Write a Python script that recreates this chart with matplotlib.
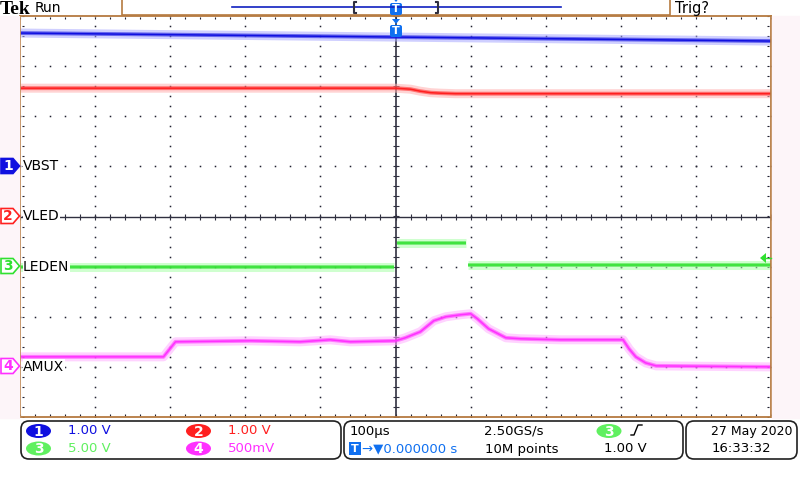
import numpy as np
import matplotlib.pyplot as plt
from matplotlib.patches import Polygon, FancyBboxPatch, Ellipse, Rectangle


# -------------------------------------------------
# DATA  (time in us, values in volts)
# -------------------------------------------------
t_vbst = [-500, 0, 500]
v_vbst = [2.66, 2.58, 2.50]

t_vled = [-500, 0, 20, 33, 47, 60, 80, 500]
v_vled = [2.56, 2.56, 2.54, 2.50, 2.47, 2.46, 2.45, 2.45]

t_leden = [-500, -2, np.nan, 2, 94, np.nan, 96, 500]
v_leden = [0.0, 0.0, np.nan, 2.4, 2.4, np.nan, 0.2, 0.2]

t_amux = [-500, -309, -293, -193, -127, -87, -60, 0, 13, 33, 51, 67, 87,
          100, 109, 124, 147, 167, 220, 303, 311, 320, 333, 347, 500]
v_amux = [0.10, 0.10, 0.25, 0.26, 0.25, 0.27, 0.25, 0.26, 0.29, 0.35, 0.46,
          0.50, 0.52, 0.53, 0.48, 0.38, 0.29, 0.28, 0.27, 0.27, 0.18, 0.10,
          0.04, 0.01, 0.0]

ch_names = ["VBST", "VLED", "LEDEN", "AMUX"]
ch_scale = [1.0, 1.0, 5.0, 0.5]      # V/div
ch_offset = [1, 0, -1, -3]           # ground position, div
ch_core = ["#1010e0", "#ff2020", "#30e030", "#ff30ff"]
ch_glow = ["#a8a8ff", "#ffb0b0", "#a8ffa8", "#ffb0ff"]
ch_scale_txt = ["1.00 V", "1.00 V", "5.00 V", "500mV"]
time_div = 100.0                     # us/div

border = "#b57a40"
grid_c = "#202030"

fig = plt.figure(figsize=(8, 4.8), dpi=100, facecolor="white")

# main graticule
ax = fig.add_axes([20 / 800, 1 - 417 / 480, 751 / 800, 401 / 480], zorder=1)
ax.set_xlim(-5, 5)
ax.set_ylim(-4, 4)
ax.set_xticks([])
ax.set_yticks([])
for s in ax.spines.values():
    s.set_color(border)
    s.set_linewidth(1.3)

# dotted grid
xs = np.arange(-5, 5.001, 0.2)
ys = np.arange(-4, 4.001, 0.2)
for gy in range(-3, 4):
    if gy != 0:
        ax.plot(xs, np.full_like(xs, gy), ls="none", marker="s", ms=1.1,
                mec="none", color=grid_c)
for gx in range(-4, 5):
    if gx != 0:
        ax.plot(np.full_like(ys, gx), ys, ls="none", marker="s", ms=1.1,
                mec="none", color=grid_c)
# border ticks
ax.plot(xs, np.full_like(xs, 3.96), ls="none", marker="|", ms=2, mew=0.8, color=grid_c)
ax.plot(xs, np.full_like(xs, -3.96), ls="none", marker="|", ms=2, mew=0.8, color=grid_c)
ax.plot(np.full_like(ys, 4.96), ys, ls="none", marker="_", ms=2, mew=0.8, color=grid_c)
ax.plot(np.full_like(ys, -4.96), ys, ls="none", marker="_", ms=2, mew=0.8, color=grid_c)
# centre cross
ax.axhline(0, color="#303040", lw=1.0)
ax.axvline(0, color="#303040", lw=1.2)
ax.plot(xs, np.zeros_like(xs), ls="none", marker="|", ms=4, mew=0.8, color="#303040")
ax.plot(np.zeros_like(ys), ys, ls="none", marker="_", ms=5, mew=0.8, color="#303040")

# traces
series = [(t_vbst, v_vbst), (t_vled, v_vled), (t_leden, v_leden), (t_amux, v_amux)]
for i, (t, v) in enumerate(series):
    x = np.array(t, dtype=float) / time_div
    y = np.array(v, dtype=float) / ch_scale[i] + ch_offset[i]
    ax.plot(x, y, color=ch_glow[i], lw=6.5, alpha=0.55, solid_capstyle="butt")
    ax.plot(x, y, color=ch_core[i], lw=2.8, alpha=0.55, solid_capstyle="butt")
    ax.plot(x, y, color=ch_core[i], lw=1.1, solid_capstyle="butt")

# channel labels
for i, name in enumerate(ch_names):
    ax.text(-4.96, ch_offset[i], name, fontsize=10, va="center", ha="left",
            color="black", zorder=5,
            bbox=dict(facecolor="white", edgecolor="none", pad=0.3))

# -------------------------------------------------
# OVERLAY (pixel coordinates)
# -------------------------------------------------
ov = fig.add_axes([0, 0, 1, 1], zorder=2)
ov.set_xlim(0, 800)
ov.set_ylim(480, 0)
ov.axis("off")
ov.patch.set_visible(False)

# side strips
ov.add_patch(Rectangle((0, 16), 19, 402, color="#fdf5f9", zorder=0))
ov.add_patch(Rectangle((772, 16), 28, 402, color="#fdf5f9", zorder=0))

# channel ground markers
ground_px = [166, 216, 266, 366]
for i, gp in enumerate(ground_px):
    pts = [(1, gp - 7.5), (13, gp - 7.5), (19.5, gp), (13, gp + 7.5), (1, gp + 7.5)]
    if i == 0:
        ov.add_patch(Polygon(pts, closed=True, fc=ch_core[i], ec=ch_core[i], lw=1.2))
        tc = "white"
    else:
        ov.add_patch(Polygon(pts, closed=True, fc="white", ec=ch_core[i], lw=1.2))
        tc = ch_core[i]
    ov.text(8, gp + 0.5, str(i + 1), color=tc, fontsize=10, fontweight="bold",
            ha="center", va="center")

# top bar
ov.text(0, 9, "Tek", fontfamily="Liberation Serif", fontweight="bold",
        fontsize=14, ha="left", va="center")
ov.text(35, 8, "Run", fontsize=10, ha="left", va="center")
ov.add_patch(Rectangle((122, -2), 548, 17, fc="white", ec=border, lw=1.2))
ov.plot([232, 561], [7, 7], color="#1020c0", lw=1.2)
ov.plot([356, 354, 354, 356], [2, 2, 13, 13], color="#303040", lw=1.5)
ov.plot([436, 438, 438, 436], [2, 2, 13, 13], color="#303040", lw=1.5)
ov.text(675, 8, "Trig?", fontsize=10.5, ha="left", va="center")


def t_marker(cx, top):
    ov.add_patch(Polygon([(cx - 4, top), (cx + 4, top), (cx, top + 5)],
                         closed=True, fc="#1070f0", ec="none"))
    ov.add_patch(FancyBboxPatch((cx - 6, top + 6), 12, 12,
                                boxstyle="round,pad=0,rounding_size=2",
                                fc="#1070f0", ec="none"))
    ov.text(cx, top + 12.5, "T", color="white", fontsize=8, fontweight="bold",
            ha="center", va="center")


t_marker(396, -3)
t_marker(396, 19)

# trigger level arrow on LEDEN
ov.add_patch(Polygon([(760, 258), (766, 253), (766, 263)], closed=True,
                     fc=ch_core[2], ec="none"))
ov.plot([766, 771], [258, 258], color=ch_core[2], lw=1)

# bottom panel boxes
for x0, w in [(21, 320), (344, 339), (686, 111)]:
    ov.add_patch(FancyBboxPatch((x0, 421), w, 38,
                                boxstyle="round,pad=0,rounding_size=8",
                                fc="white", ec="#202020", lw=1.2))

badge_pos = [(38.5, 431), (198.5, 431), (38.5, 448.5), (198.5, 448.5)]
txt_x = [68, 228, 68, 228]
for i, (bx, by) in enumerate(badge_pos):
    ov.add_patch(Ellipse((bx, by), 25, 14, fc=ch_core[i] if i != 2 else "#60f060",
                         ec="none"))
    ov.text(bx, by + 0.5, str(i + 1), color="white", fontsize=10,
            fontweight="bold", ha="center", va="center")
    ov.text(txt_x[i], by, ch_scale_txt[i], color=ch_core[i] if i != 2 else "#60f060",
            fontsize=9.5, ha="left", va="center")

# horizontal settings
ov.text(350, 431, "100\u00b5s", fontsize=9.5, ha="left", va="center")
ov.add_patch(Rectangle((349, 442), 12, 13, fc="#1070f0", ec="none"))
ov.text(355, 449, "T", color="white", fontsize=8, fontweight="bold",
        ha="center", va="center")
ov.text(362, 449, "\u2192\u25bc0.000000 s", color="#1070f0", fontsize=9.5,
        ha="left", va="center")
ov.text(484, 431, "2.50GS/s", fontsize=9.5, ha="left", va="center")
ov.text(485, 449, "10M points", fontsize=9.5, ha="left", va="center")
ov.add_patch(Ellipse((609, 431), 25, 14, fc="#60f060", ec="none"))
ov.text(609, 431.5, "3", color="white", fontsize=10, fontweight="bold",
        ha="center", va="center")
ov.plot([631, 634, 638, 642], [435, 435, 425, 425], color="black", lw=1.0)
ov.text(604, 449, "1.00 V", fontsize=9.5, ha="left", va="center")

# date / time
ov.text(711, 431, "27 May 2020", fontsize=9, ha="left", va="center")
ov.text(712, 449, "16:33:32", fontsize=9.5, ha="left", va="center")

fig.savefig("out.png", dpi=100, facecolor="white")
